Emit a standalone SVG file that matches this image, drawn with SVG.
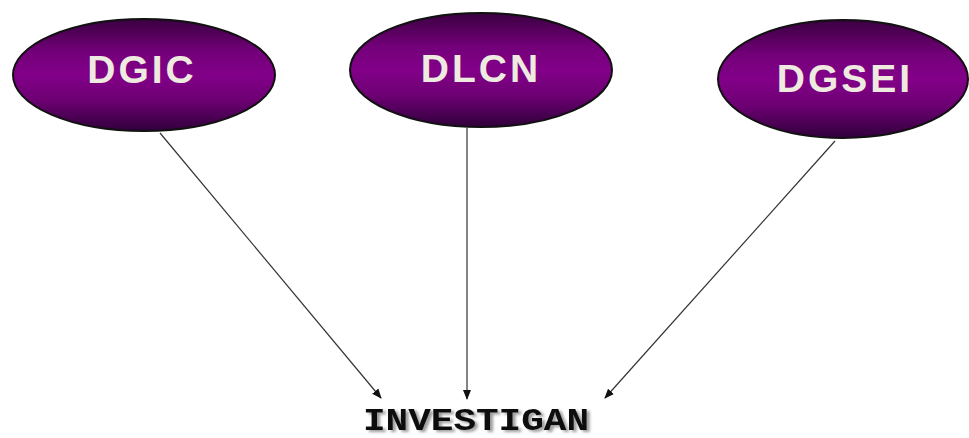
<svg xmlns="http://www.w3.org/2000/svg" width="969" height="438" viewBox="0 0 969 438">
  <defs>
    <linearGradient id="oval" x1="0" y1="0" x2="0" y2="1">
      <stop offset="0" stop-color="#3a0040"/>
      <stop offset="0.3" stop-color="#74007a"/>
      <stop offset="0.5" stop-color="#820088"/>
      <stop offset="0.72" stop-color="#6e0074"/>
      <stop offset="1" stop-color="#30003a"/>
    </linearGradient>
    <marker id="arrow" markerWidth="10" markerHeight="10" refX="9" refY="5" orient="auto" markerUnits="userSpaceOnUse">
      <path d="M0,1 L10,5 L0,9 Z" fill="#111"/>
    </marker>
    <filter id="shadow" x="-10%" y="-30%" width="120%" height="160%">
      <feGaussianBlur in="SourceAlpha" stdDeviation="1.5"/>
      <feOffset dx="3" dy="2" result="b"/>
      <feComponentTransfer><feFuncA type="linear" slope="0.4"/></feComponentTransfer>
      <feMerge><feMergeNode/><feMergeNode in="SourceGraphic"/></feMerge>
    </filter>
  </defs>
  <style>
    .node ellipse { fill: url(#oval); stroke: #111; stroke-width: 2; }
    .node text { font-family: "Liberation Sans", Arial, sans-serif; font-weight: bold; font-size: 39px; fill: #eeeae0; text-anchor: middle; letter-spacing: 3px; }
    .edge { stroke: #333; stroke-width: 1.2; fill: none; marker-end: url(#arrow); }
    .target { font-family: "Liberation Mono", "Courier New", monospace; font-weight: bold; font-size: 31px; fill: #111; }
  </style>

  <g id="edges">
    <line class="edge" x1="160" y1="133" x2="381" y2="398"/>
    <line class="edge" x1="467" y1="128" x2="467" y2="399"/>
    <line class="edge" x1="835" y1="141" x2="605" y2="398"/>
  </g>

  <g id="dgic" class="node">
    <ellipse cx="144" cy="75" rx="131" ry="56"/>
    <text x="142" y="83">DGIC</text>
  </g>
  <g id="dlcn" class="node">
    <ellipse cx="481" cy="70" rx="131" ry="57"/>
    <text x="481" y="82">DLCN</text>
  </g>
  <g id="dgsei" class="node">
    <ellipse cx="843" cy="79" rx="125" ry="59"/>
    <text x="845" y="92">DGSEI</text>
  </g>

  <g id="investigan">
    <text class="target" x="363" y="430" textLength="226" lengthAdjust="spacingAndGlyphs" filter="url(#shadow)">INVESTIGAN</text>
  </g>
</svg>
